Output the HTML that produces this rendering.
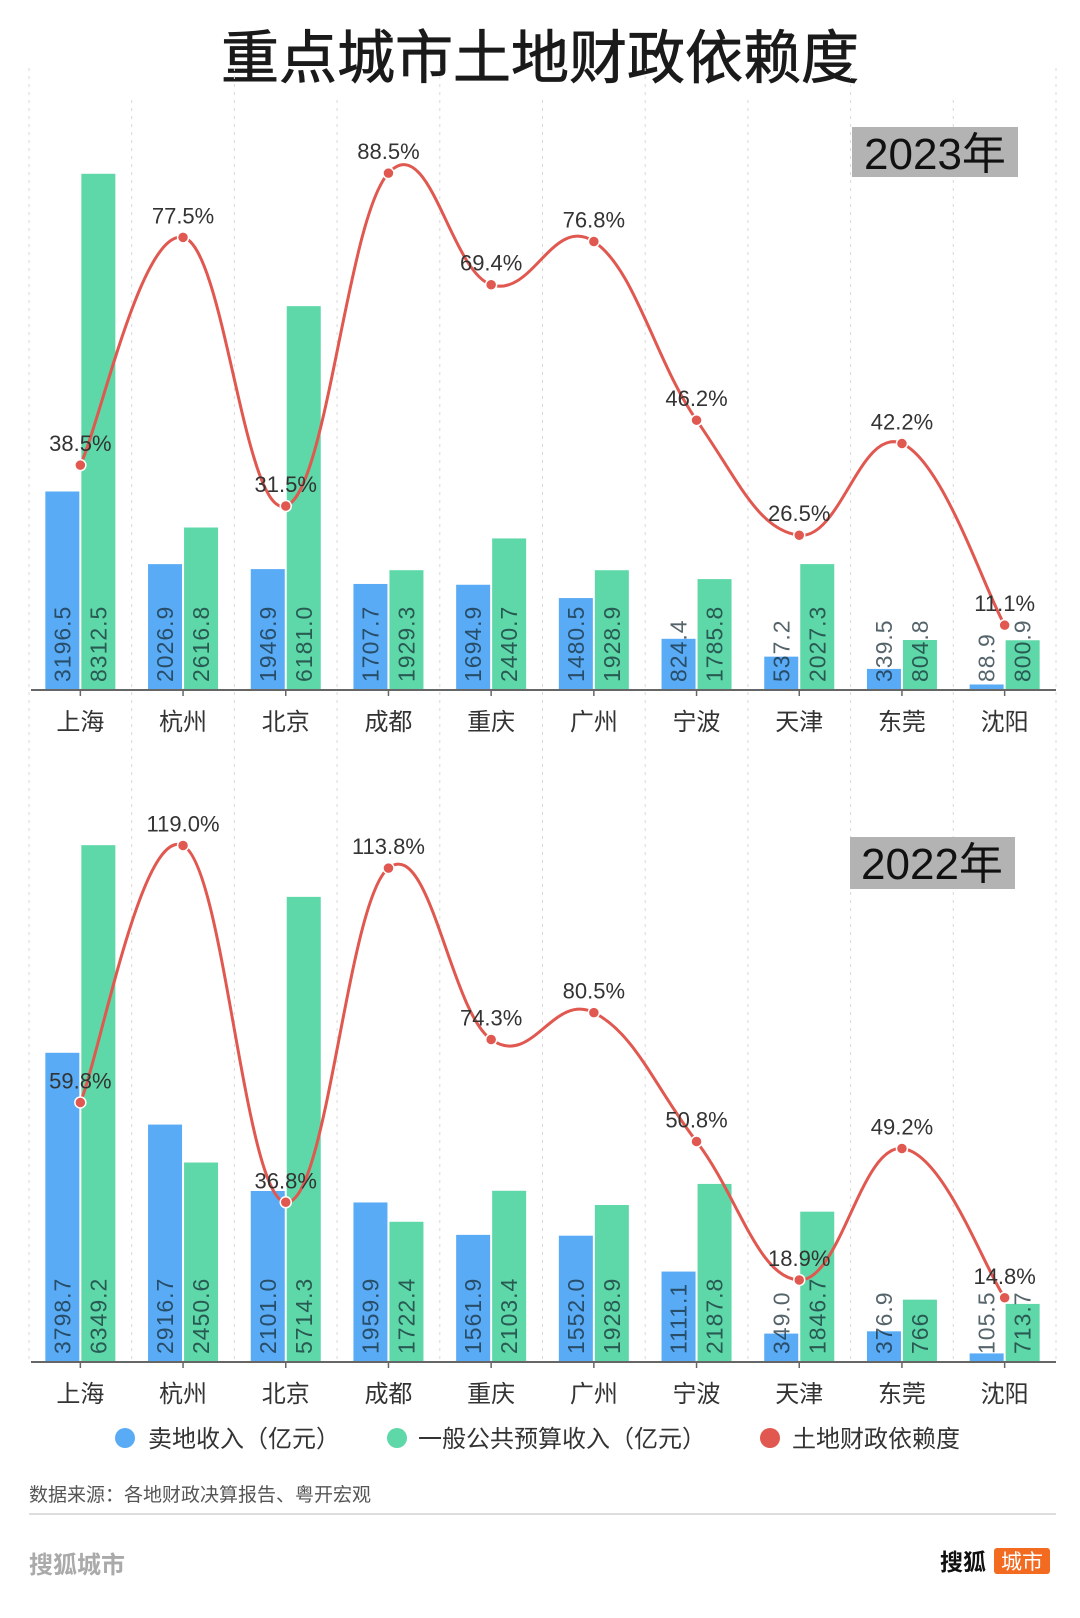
<!DOCTYPE html>
<html><head><meta charset="utf-8"><style>
html,body{margin:0;padding:0;background:#fff;}
svg{display:block;font-family:"Liberation Sans","Noto Sans CJK SC",sans-serif;}
</style></head><body>
<svg id="chart" width="1080" height="1618" viewBox="0 0 1080 1618" xmlns="http://www.w3.org/2000/svg">
<rect width="1080" height="1618" fill="#fff"/>
<text x="540" y="78" text-anchor="middle" font-size="58" stroke="#1a1a1a" stroke-width="0.8" fill="#1a1a1a">重点城市土地财政依赖度</text>
<g id="grid"></g>
<g id="top"></g>
<g id="bottom"></g>
<rect x="852" y="127" width="166" height="50" fill="#b3b3b3"/>
<text x="935" y="169" text-anchor="middle" font-size="44" fill="#111">2023年</text>
<rect x="850" y="837" width="165" height="52" fill="#b3b3b3"/>
<text x="932" y="879" text-anchor="middle" font-size="44" fill="#111">2022年</text>
<g>
<circle cx="125" cy="1438" r="10" fill="#5aabf5"/>
<text x="148" y="1447" font-size="24" fill="#333">卖地收入（亿元）</text>
<circle cx="397" cy="1438" r="10" fill="#5ed8a8"/>
<text x="418" y="1447" font-size="24" fill="#333">一般公共预算收入（亿元）</text>
<circle cx="770" cy="1438" r="10" fill="#e0584f"/>
<text x="792" y="1447" font-size="24" fill="#333">土地财政依赖度</text>
</g>
<text x="29" y="1501" font-size="19" fill="#555">数据来源：各地财政决算报告、粤开宏观</text>
<line x1="29" y1="1514" x2="1056" y2="1514" stroke="#ddd" stroke-width="2"/>
<text x="29" y="1573" font-size="24" font-weight="bold" fill="#aaa">搜狐城市</text>
<text x="940" y="1570" font-size="23" font-weight="bold" fill="#111">搜狐</text>
<rect x="994" y="1548" width="56" height="26" rx="3" fill="#f26b21"/>
<text x="1022" y="1569" text-anchor="middle" font-size="21" fill="#fff">城市</text>
</svg>
<script>
const categories = ["上海","杭州","北京","成都","重庆","广州","宁波","天津","东莞","沈阳"];
const land2023 = [3196.5,2026.9,1946.9,1707.7,1694.9,1480.5,824.4,537.2,339.5,88.9];
const budget2023 = [8312.5,2616.8,6181.0,1929.3,2440.7,1928.9,1785.8,2027.3,804.8,800.9];
const pct2023 = [38.5,77.5,31.5,88.5,69.4,76.8,46.2,26.5,42.2,11.1];
const land2022 = [3798.7,2916.7,2101.0,1959.9,1561.9,1552.0,1111.1,349.0,376.9,105.5];
const budget2022 = [6349.2,2450.6,5714.3,1722.4,2103.4,1928.9,2187.8,1846.7,766,713.7];
const pct2022 = [59.8,119.0,36.8,113.8,74.3,80.5,50.8,18.9,49.2,14.8];
const landLabels2023 = ["3196.5","2026.9","1946.9","1707.7","1694.9","1480.5","824.4","537.2","339.5","88.9"];
const budgetLabels2023 = ["8312.5","2616.8","6181.0","1929.3","2440.7","1928.9","1785.8","2027.3","804.8","800.9"];
const landLabels2022 = ["3798.7","2916.7","2101.0","1959.9","1561.9","1552.0","1111.1","349.0","376.9","105.5"];
const budgetLabels2022 = ["6349.2","2450.6","5714.3","1722.4","2103.4","1928.9","2187.8","1846.7","766","713.7"];

const NS = "http://www.w3.org/2000/svg";
function mk(tag, attrs, parent){const e=document.createElementNS(NS,tag);for(const k in attrs)e.setAttribute(k,attrs[k]);parent.appendChild(e);return e;}
const x0 = 29, step = 102.7;
function xCenter(i){return x0 + step*(i+0.5);}

const grid = document.getElementById('grid');
for(let i=0;i<=10;i++){
  const l = mk('line',{x1:x0+step*i,y1:(i%2?100:68),x2:x0+step*i,y2:1360,stroke:'#d8d8d8','stroke-width':1,'stroke-dasharray':'3,5'},grid);
  
  
}

function drawPanel(g, axisY, barScale, pctScale, land, budget, pct, landL, budgetL, year){
  const yB = v => axisY - v*barScale;
  const yP = p => axisY - p*pctScale;
  categories.forEach((c,i)=>{
    const cx = xCenter(i);
    const b1 = mk('rect',{x:cx-35,y:yB(land[i]),width:34,height:axisY-yB(land[i]),fill:'#5aabf5'},g);
    
    
    const b2 = mk('rect',{x:cx+1,y:yB(budget[i]),width:34,height:axisY-yB(budget[i]),fill:'#5ed8a8'},g);
    
    
    [[cx-18,landL[i] || String(land[i])],[cx+18,budgetL[i] || String(budget[i])]].forEach(([tx,s])=>{
      const t = mk('text',{x:0,y:0,transform:`translate(${tx+8},${axisY-8}) rotate(-90)`,'font-size':23,fill:'rgba(20,40,50,0.72)','letter-spacing':1},g);
      t.textContent = s;
      
      
    });
    const tk = mk('line',{x1:cx,y1:axisY,x2:cx,y2:axisY+6,stroke:'#666','stroke-width':1.5},g);
    
    
    const cl = mk('text',{x:cx,y:axisY+40,'text-anchor':'middle','font-size':24,fill:'#333'},g);
    cl.textContent = c;
    
    
  });
  const ax = mk('line',{x1:31,y1:axisY,x2:1056,y2:axisY,stroke:'#666','stroke-width':2},g);
  
  
  const pts = pct.map((p,i)=>[xCenter(i), yP(p)]);
  let d = `M${pts[0][0]},${pts[0][1]}`;
  const t = 0.5;
  for(let i=0;i<pts.length-1;i++){
    const p0 = pts[Math.max(0,i-1)], p1 = pts[i], p2 = pts[i+1], p3 = pts[Math.min(pts.length-1,i+2)];
    const c1 = [p1[0]+(p2[0]-p0[0])*t/3*1.2, p1[1]+(p2[1]-p0[1])*t/3*1.2];
    const c2 = [p2[0]-(p3[0]-p1[0])*t/3*1.2, p2[1]-(p3[1]-p1[1])*t/3*1.2];
    d += ` C${c1[0]},${c1[1]} ${c2[0]},${c2[1]} ${p2[0]},${p2[1]}`;
  }
  const line = mk('path',{d:d,fill:'none',stroke:'#e0584f','stroke-width':3},g);
  
  
  pts.forEach((p,i)=>{
    const c = mk('circle',{cx:p[0],cy:p[1],r:5.5,fill:'#e0584f',stroke:'#fff','stroke-width':1.5},g);
    
    
    const lt = mk('text',{x:p[0],y:p[1]-14,'text-anchor':'middle','font-size':22,fill:'#333'},g);
    lt.textContent = pct[i].toFixed(1)+'%';
    
    
  });
}
drawPanel(document.getElementById('top'), 690, 0.0621, 5.84, land2023, budget2023, pct2023, landLabels2023, budgetLabels2023, '2023');
drawPanel(document.getElementById('bottom'), 1362, 0.0814, 4.34, land2022, budget2022, pct2022, landLabels2022, budgetLabels2022, '2022');
</script>
</body></html>
